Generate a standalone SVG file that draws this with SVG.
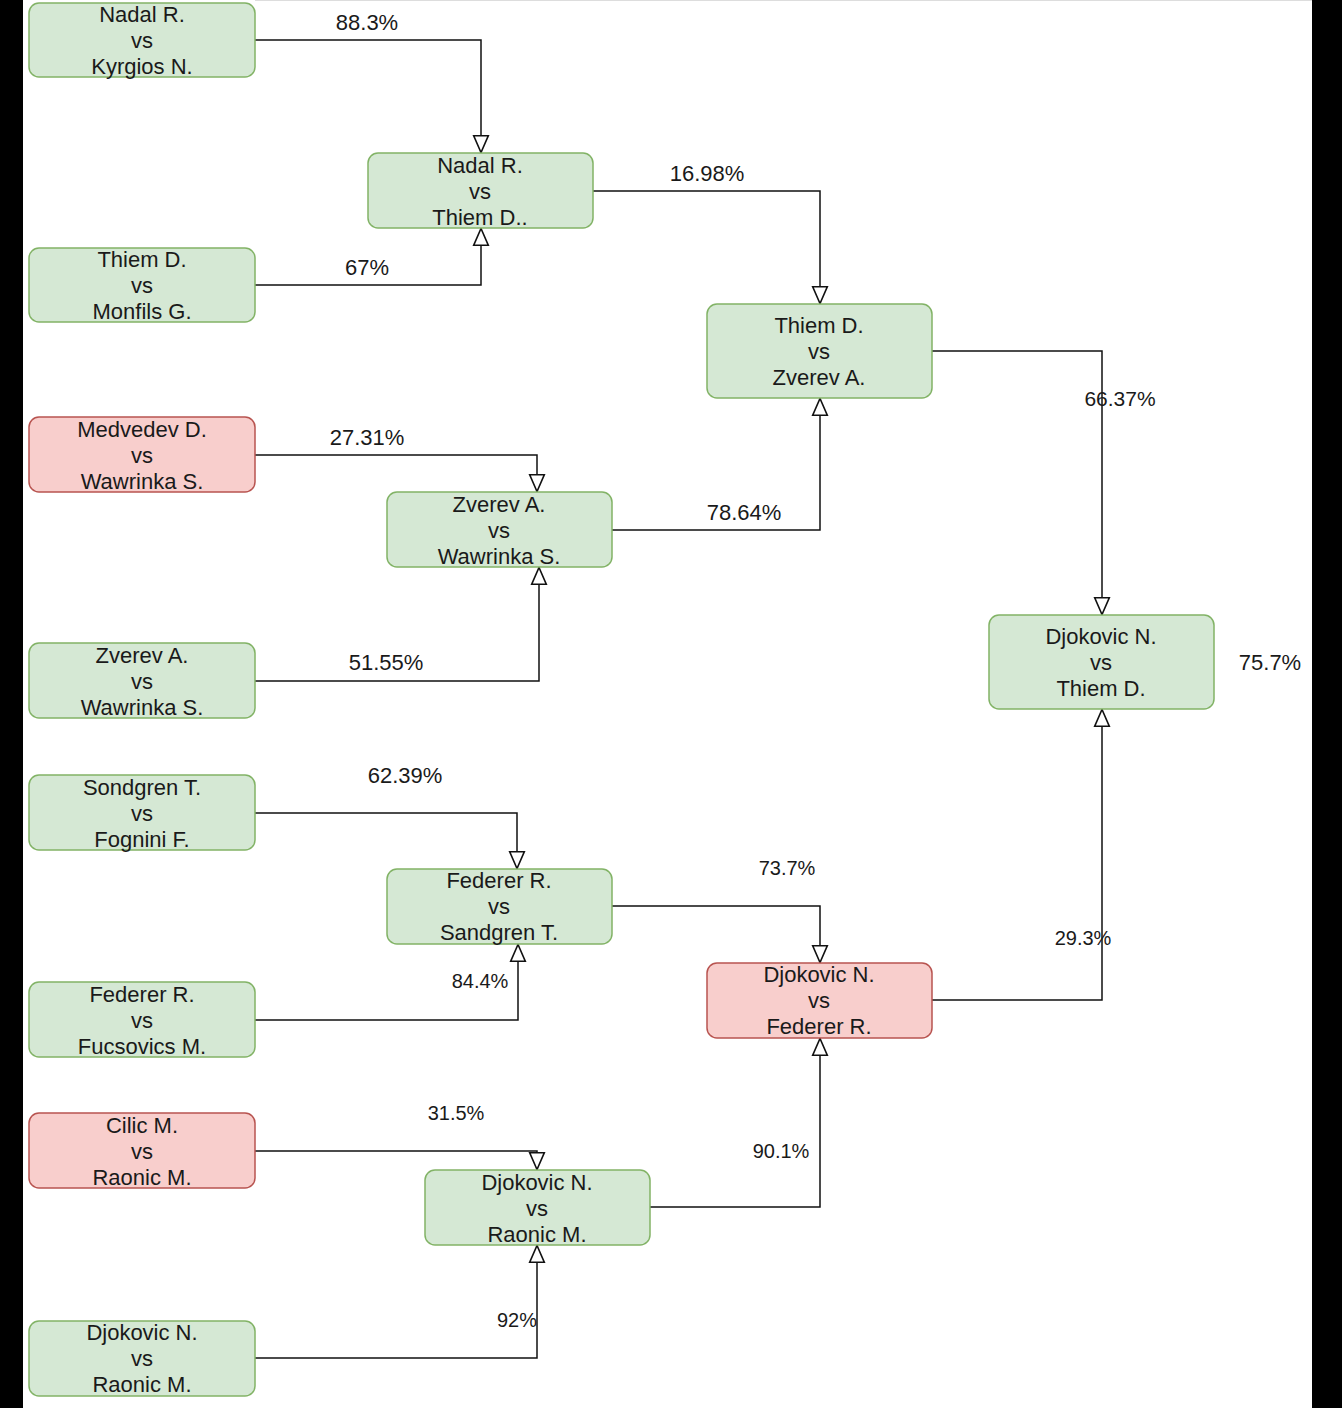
<svg xmlns="http://www.w3.org/2000/svg" width="1342" height="1408" viewBox="0 0 1342 1408">
<defs>
<style>
.g{fill:#d5e8d4;stroke:#82b366;stroke-width:1.5}
.r{fill:#f8cecc;stroke:#b85450;stroke-width:1.5}
.t{font-family:"Liberation Sans",Arial,Helvetica,sans-serif;font-size:22px;fill:#1a1a1a;text-anchor:middle}
.l{font-family:"Liberation Sans",Arial,Helvetica,sans-serif;font-size:22px;fill:#1a1a1a;text-anchor:middle}
.s{font-size:20px}
.c{fill:none;stroke:#111;stroke-width:1.5;marker-end:url(#arr)}
</style>
<marker id="arr" markerUnits="userSpaceOnUse" markerWidth="20" markerHeight="18" refX="16.5" refY="7" orient="auto" viewBox="-1 -1 19 16">
<path d="M0,0 L16,7 L0,14 Z" fill="#fff" stroke="#111" stroke-width="1.5"/>
</marker>
</defs>
<rect x="0" y="0" width="1342" height="1408" fill="#fff"/>
<rect x="0" y="0" width="23" height="1408" fill="#000"/>
<rect x="1312" y="0" width="30" height="1408" fill="#000"/>
<line x1="255" y1="0.5" x2="1312" y2="0.5" stroke="#ddd" stroke-width="1"/>

<g id="connectors">
<path class="c" d="M255,40 H481 V153"/>
<path class="c" d="M255,285 H481 V228"/>
<path class="c" d="M593,191 H820 V304"/>
<path class="c" d="M255,455 H537 V492"/>
<path class="c" d="M255,681 H539 V567"/>
<path class="c" d="M612,530 H820 V398"/>
<path class="c" d="M932,351 H1102 V615"/>
<path class="c" d="M255,813 H517 V869"/>
<path class="c" d="M255,1020 H518 V944"/>
<path class="c" d="M612,906 H820 V963"/>
<path class="c" d="M932,1000 H1102 V709"/>
<path class="c" d="M255,1151 H537 V1170"/>
<path class="c" d="M255,1358 H537 V1245"/>
<path class="c" d="M650,1207 H820 V1038"/>
<text class="l" x="367" y="30">88.3%</text>
<text class="l" x="367" y="275">67%</text>
<text class="l" x="707" y="181">16.98%</text>
<text class="l" x="367" y="445">27.31%</text>
<text class="l" x="386" y="670">51.55%</text>
<text class="l" x="744" y="520">78.64%</text>
<text class="l" x="1120" y="406" style="font-size:21px">66.37%</text>
<text class="l" x="405" y="783">62.39%</text>
<text class="l s" x="480" y="988">84.4%</text>
<text class="l s" x="787" y="875">73.7%</text>
<text class="l s" x="1083" y="945">29.3%</text>
<text class="l s" x="456" y="1120">31.5%</text>
<text class="l s" x="517" y="1327">92%</text>
<text class="l s" x="781" y="1158">90.1%</text>
<text class="l" x="1270" y="670">75.7%</text>
</g>

<g id="n1"><rect class="g" x="29" y="3" width="226" height="74" rx="10"/>
<text class="t" x="142" y="22">Nadal R.</text><text class="t" x="142" y="48">vs</text><text class="t" x="142" y="74">Kyrgios N.</text></g>
<g id="n2"><rect class="g" x="29" y="248" width="226" height="74" rx="10"/>
<text class="t" x="142" y="267">Thiem D.</text><text class="t" x="142" y="293">vs</text><text class="t" x="142" y="319">Monfils G.</text></g>
<g id="n3"><rect class="r" x="29" y="417" width="226" height="75" rx="10"/>
<text class="t" x="142" y="437">Medvedev D.</text><text class="t" x="142" y="463">vs</text><text class="t" x="142" y="489">Wawrinka S.</text></g>
<g id="n4"><rect class="g" x="29" y="643" width="226" height="75" rx="10"/>
<text class="t" x="142" y="663">Zverev A.</text><text class="t" x="142" y="689">vs</text><text class="t" x="142" y="715">Wawrinka S.</text></g>
<g id="n5"><rect class="g" x="29" y="775" width="226" height="75" rx="10"/>
<text class="t" x="142" y="795">Sondgren T.</text><text class="t" x="142" y="821">vs</text><text class="t" x="142" y="847">Fognini F.</text></g>
<g id="n6"><rect class="g" x="29" y="982" width="226" height="75" rx="10"/>
<text class="t" x="142" y="1002">Federer R.</text><text class="t" x="142" y="1028">vs</text><text class="t" x="142" y="1054">Fucsovics M.</text></g>
<g id="n7"><rect class="r" x="29" y="1113" width="226" height="75" rx="10"/>
<text class="t" x="142" y="1133">Cilic M.</text><text class="t" x="142" y="1159">vs</text><text class="t" x="142" y="1185">Raonic M.</text></g>
<g id="n8"><rect class="g" x="29" y="1321" width="226" height="75" rx="10"/>
<text class="t" x="142" y="1340">Djokovic N.</text><text class="t" x="142" y="1366">vs</text><text class="t" x="142" y="1392">Raonic M.</text></g>

<g id="m1"><rect class="g" x="368" y="153" width="225" height="75" rx="10"/>
<text class="t" x="480" y="173">Nadal R.</text><text class="t" x="480" y="199">vs</text><text class="t" x="480" y="225">Thiem D..</text></g>
<g id="m2"><rect class="g" x="387" y="492" width="225" height="75" rx="10"/>
<text class="t" x="499" y="512">Zverev A.</text><text class="t" x="499" y="538">vs</text><text class="t" x="499" y="564">Wawrinka S.</text></g>
<g id="m3"><rect class="g" x="387" y="869" width="225" height="75" rx="10"/>
<text class="t" x="499" y="888">Federer R.</text><text class="t" x="499" y="914">vs</text><text class="t" x="499" y="940">Sandgren T.</text></g>
<g id="m4"><rect class="g" x="425" y="1170" width="225" height="75" rx="10"/>
<text class="t" x="537" y="1190">Djokovic N.</text><text class="t" x="537" y="1216">vs</text><text class="t" x="537" y="1242">Raonic M.</text></g>

<g id="s1"><rect class="g" x="707" y="304" width="225" height="94" rx="10"/>
<text class="t" x="819" y="333">Thiem D.</text><text class="t" x="819" y="359">vs</text><text class="t" x="819" y="385">Zverev A.</text></g>
<g id="s2"><rect class="r" x="707" y="963" width="225" height="75" rx="10"/>
<text class="t" x="819" y="982">Djokovic N.</text><text class="t" x="819" y="1008">vs</text><text class="t" x="819" y="1034">Federer R.</text></g>

<g id="f"><rect class="g" x="989" y="615" width="225" height="94" rx="10"/>
<text class="t" x="1101" y="644">Djokovic N.</text><text class="t" x="1101" y="670">vs</text><text class="t" x="1101" y="696">Thiem D.</text></g>
</svg>
